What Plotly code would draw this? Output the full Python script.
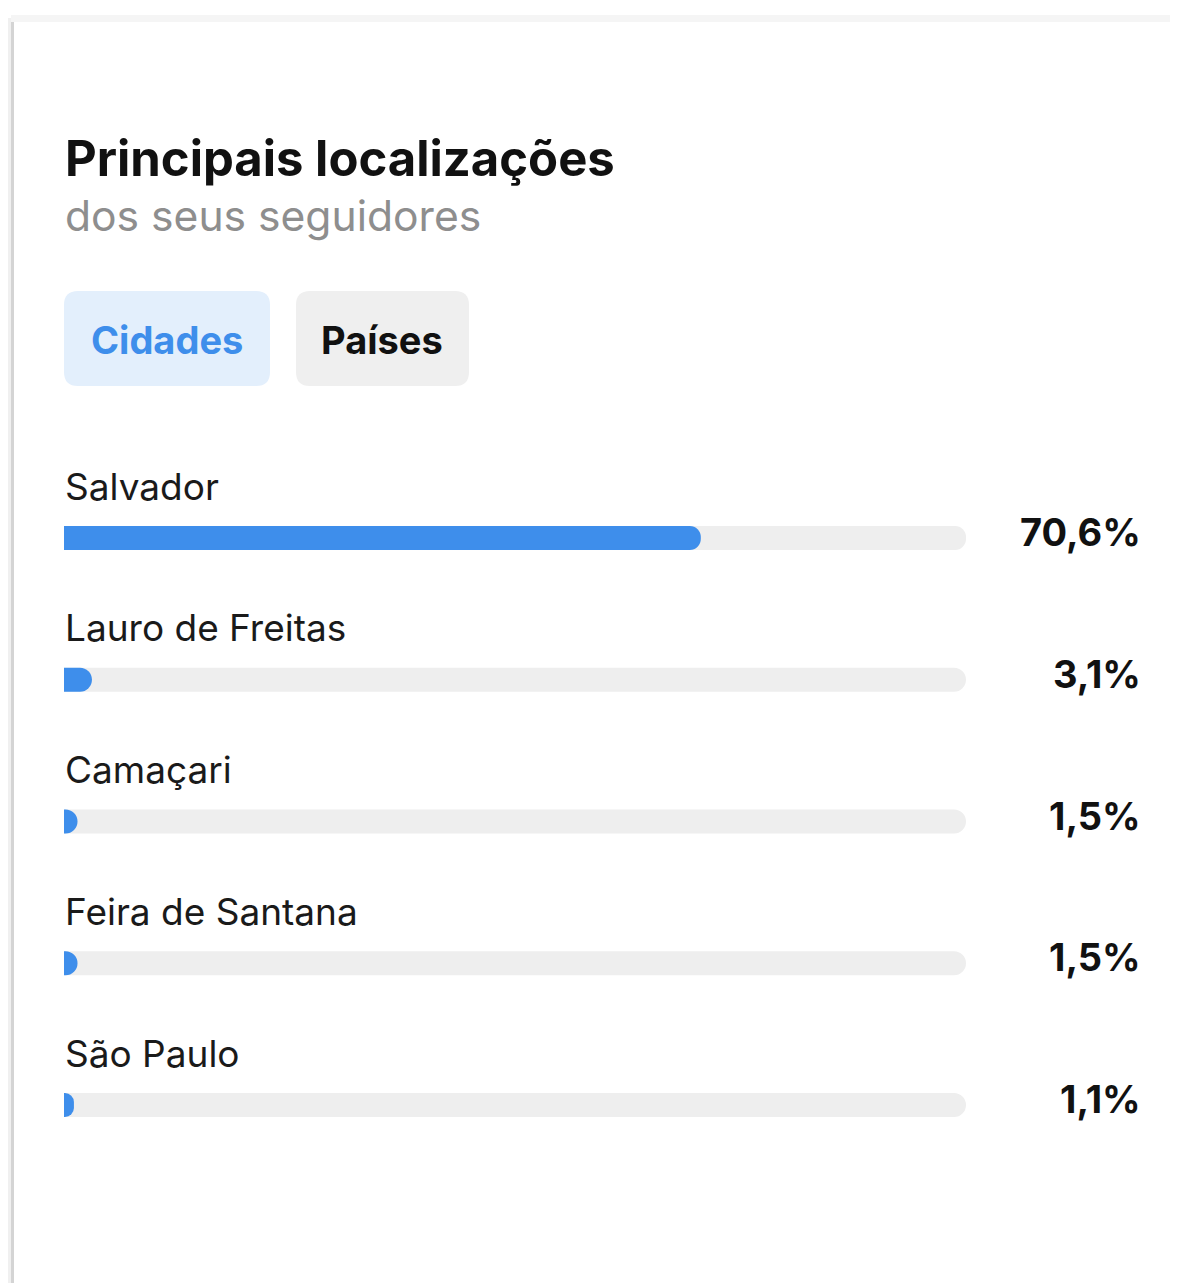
import plotly.graph_objects as go

PAGE_W, PAGE_H = 1178, 1283
OFF = 8  # default body margin of the html page
W, H = PAGE_W - OFF, PAGE_H - OFF

title = "Principais localizações"
subtitle = "dos seus seguidores"
tabs = ["Cidades", "Países"]
cities = ["Salvador", "Lauro de Freitas", "Camaçari", "Feira de Santana", "São Paulo"]
shares = [70.6, 3.1, 1.5, 1.5, 1.1]
share_labels = ["70,6%", "3,1%", "1,5%", "1,5%", "1,1%"]
track_max = [100, 100, 100, 100, 100]

BLUE = "#3E8EEB"
TRACK = "#EEEEEE"
FONT = "Inter"

def px_x(x):
    return (x - OFF) / W

def px_y(y):
    return 1 - (y - OFF) / H

# bar centres at page pixel ~538 .. 1105
step = (1105 - 538) / 4
top_px = 538 - step / 2
bot_px = 1105 + step / 2
bar_w = 24 / step

fig = go.Figure()
fig.add_trace(go.Bar(
    y=cities, x=track_max, orientation="h", width=bar_w, yaxis="y",
    marker=dict(color=TRACK, line=dict(width=0), cornerradius=12),
    hoverinfo="skip", showlegend=False,
))
fig.add_trace(go.Bar(
    y=cities, x=shares, orientation="h", width=bar_w, yaxis="y2",
    marker=dict(color=BLUE, line=dict(width=0), cornerradius=12), showlegend=False,
))

shapes = []
# card shadow
shapes.append(dict(type="rect", xref="paper", yref="paper", x0=px_x(8), x1=px_x(12),
                   y0=0, y1=px_y(18), fillcolor="#F0F0F0", line=dict(width=0), layer="below"))
shapes.append(dict(type="rect", xref="paper", yref="paper", x0=px_x(11), x1=px_x(14),
                   y0=0, y1=px_y(20), fillcolor="#D4D4D4", line=dict(width=0), layer="below"))
shapes.append(dict(type="rect", xref="paper", yref="paper", x0=px_x(11), x1=1,
                   y0=px_y(22), y1=px_y(15), fillcolor="#F5F5F5", line=dict(width=0), layer="below"))
shapes.append(dict(type="rect", xref="paper", yref="paper", x0=px_x(14), x1=1,
                   y0=0, y1=px_y(22), fillcolor="#FFFFFF", line=dict(width=0), layer="below"))

def rrect(x0, y0, x1, y1, r):
    X0, X1 = px_x(x0), px_x(x1)
    Y0, Y1 = px_y(y0), px_y(y1)
    rx, ry = r / W, r / H
    return (f"M {X0+rx},{Y0} L {X1-rx},{Y0} Q {X1},{Y0} {X1},{Y0-ry} "
            f"L {X1},{Y1+ry} Q {X1},{Y1} {X1-rx},{Y1} L {X0+rx},{Y1} "
            f"Q {X0},{Y1} {X0},{Y1+ry} L {X0},{Y0-ry} Q {X0},{Y0} {X0+rx},{Y0} Z")

shapes.append(dict(type="path", xref="paper", yref="paper", path=rrect(64, 291, 270, 386, 14),
                   fillcolor="#E3EFFC", line=dict(width=0), layer="below"))
shapes.append(dict(type="path", xref="paper", yref="paper", path=rrect(296, 291, 469, 386, 14),
                   fillcolor="#EFEFEF", line=dict(width=0), layer="below"))

ann = []
ann.append(dict(text=f"<b>{title}</b>", xref="paper", yref="paper", x=px_x(63), y=px_y(158),
                xanchor="left", yanchor="middle", showarrow=False,
                font=dict(family=FONT, size=49, color="#111111")))
ann.append(dict(text=subtitle, xref="paper", yref="paper", x=px_x(63), y=px_y(215),
                xanchor="left", yanchor="middle", showarrow=False,
                font=dict(family=FONT, size=42.6, color="#8E8E8E")))
ann.append(dict(text=f"<b>{tabs[0]}</b>", xref="paper", yref="paper", x=px_x(167), y=px_y(340),
                xanchor="center", yanchor="middle", showarrow=False,
                font=dict(family=FONT, size=38, color="#3E8EEB")))
ann.append(dict(text=f"<b>{tabs[1]}</b>", xref="paper", yref="paper", x=px_x(382), y=px_y(340),
                xanchor="center", yanchor="middle", showarrow=False,
                font=dict(family=FONT, size=38, color="#111111")))

for c, lab in zip(cities, share_labels):
    ann.append(dict(text=c, xref="paper", yref="y", x=px_x(63), y=c, yshift=52,
                    xanchor="left", yanchor="middle", showarrow=False,
                    font=dict(family=FONT, size=37, color="#1A1A1A")))
    ann.append(dict(text=f"<b>{lab}</b>", xref="paper", yref="y", x=px_x(1143), y=c, yshift=6,
                    xanchor="right", yanchor="middle", showarrow=False,
                    font=dict(family=FONT, size=38, color="#111111")))

ydom = [px_y(bot_px), px_y(top_px)]
fig.update_layout(
    width=W, height=H, margin=dict(l=0, r=0, t=0, b=0),
    paper_bgcolor="#FFFFFF", plot_bgcolor="rgba(0,0,0,0)",
    barmode="group",
    xaxis=dict(domain=[px_x(64), px_x(966)], range=[0, 100], visible=False, fixedrange=True),
    yaxis=dict(domain=ydom, categoryorder="array", categoryarray=cities,
               range=[4.5, -0.5], visible=False, fixedrange=True),
    yaxis2=dict(domain=ydom, overlaying="y", categoryorder="array", categoryarray=cities,
                range=[4.5, -0.5], visible=False, fixedrange=True),
    shapes=shapes, annotations=ann,
)

fig.write_html("out.html", config={"displayModeBar": False})
